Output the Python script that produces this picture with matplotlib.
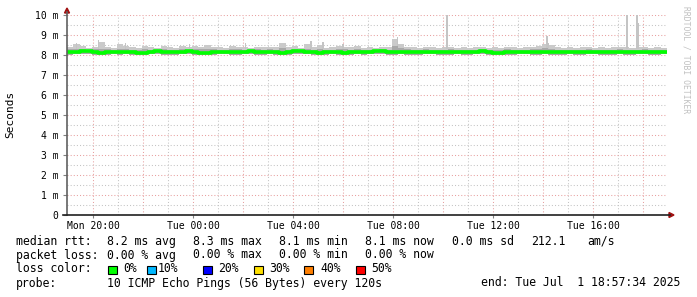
import numpy as np
import matplotlib
matplotlib.use("Agg")
import matplotlib.pyplot as plt
from matplotlib.patches import Polygon, Rectangle

# ---------------- data ----------------
t_start = 18.959          # Mon 18:57:34 (hours since Mon 00:00)
t_end = 42.959            # Tue 18:57:34
bin_h = 0.25              # 15 minute bins

median = [8.15, 8.17, 8.20, 8.18, 8.14, 8.12, 8.15, 8.16, 8.13, 8.17, 8.14, 8.10, 8.12, 8.16, 8.18, 8.15,
          8.14, 8.13, 8.17, 8.18, 8.15, 8.12, 8.10, 8.13, 8.16, 8.17, 8.15, 8.14, 8.16, 8.18, 8.15, 8.13,
          8.16, 8.14, 8.12, 8.15, 8.18, 8.20, 8.17, 8.14, 8.10, 8.13, 8.16, 8.15, 8.12, 8.14, 8.17, 8.15,
          8.16, 8.22, 8.18, 8.15, 8.14, 8.16, 8.15, 8.13, 8.15, 8.17, 8.16, 8.14, 8.15, 8.13, 8.16, 8.15,
          8.14, 8.16, 8.18, 8.15, 8.12, 8.10, 8.13, 8.15, 8.17, 8.16, 8.14, 8.15, 8.16, 8.14, 8.13, 8.15,
          8.16, 8.15, 8.14, 8.16, 8.17, 8.15, 8.13, 8.15, 8.16, 8.14, 8.15, 8.17, 8.16, 8.14, 8.15, 8.16]

smoke_hi = [8.40, 8.55, 8.45, 8.35, 8.40, 8.65, 8.40, 8.35, 8.55, 8.45, 8.40, 8.35, 8.45, 8.40, 8.35, 8.45,
            8.40, 8.35, 8.45, 8.40, 8.45, 8.40, 8.50, 8.40, 8.40, 8.35, 8.45, 8.40, 8.40, 8.35, 8.40, 8.38,
            8.40, 8.38, 8.60, 8.40, 8.45, 8.35, 8.55, 8.40, 8.50, 8.35, 8.40, 8.45, 8.40, 8.38, 8.45, 8.35,
            8.40, 8.35, 8.40, 8.38, 8.80, 8.55, 8.40, 8.38, 8.35, 8.40, 8.38, 8.35, 8.38, 8.40, 8.35, 8.38,
            8.35, 8.38, 8.40, 8.35, 8.38, 8.35, 8.40, 8.38, 8.35, 8.38, 8.40, 8.45, 8.55, 8.50, 8.38, 8.35,
            8.38, 8.35, 8.38, 8.40, 8.35, 8.38, 8.35, 8.38, 8.40, 8.38, 8.35, 8.38, 8.40, 8.35, 8.38, 8.35]

smoke_mid = [8.28, 8.30, 8.30, 8.25, 8.28, 8.32, 8.28, 8.25, 8.30, 8.28, 8.26, 8.25, 8.28, 8.27, 8.25, 8.28,
             8.27, 8.25, 8.28, 8.27, 8.30, 8.28, 8.30, 8.28, 8.27, 8.25, 8.30, 8.28, 8.27, 8.25, 8.28, 8.26,
             8.28, 8.27, 8.33, 8.27, 8.30, 8.25, 8.32, 8.27, 8.30, 8.25, 8.27, 8.30, 8.28, 8.27, 8.30, 8.25,
             8.27, 8.26, 8.28, 8.27, 8.45, 8.35, 8.28, 8.27, 8.25, 8.28, 8.27, 8.25, 8.27, 8.28, 8.25, 8.27,
             8.25, 8.27, 8.28, 8.25, 8.27, 8.25, 8.28, 8.27, 8.25, 8.27, 8.28, 8.30, 8.33, 8.30, 8.27, 8.25,
             8.27, 8.25, 8.27, 8.28, 8.25, 8.27, 8.25, 8.27, 8.28, 8.27, 8.25, 8.27, 8.28, 8.25, 8.27, 8.25]

smoke_lo = [8.02, 8.03, 8.05, 8.04, 8.01, 8.00, 8.02, 8.03, 8.01, 8.04, 8.02, 7.98, 8.00, 8.03, 8.05, 8.02,
            8.01, 8.00, 8.04, 8.05, 8.02, 8.00, 7.98, 8.01, 8.03, 8.04, 8.02, 8.01, 8.03, 8.05, 8.02, 8.00,
            8.03, 8.01, 8.00, 8.02, 8.05, 8.06, 8.04, 8.01, 7.98, 8.00, 8.03, 8.02, 8.00, 8.01, 8.04, 8.02,
            8.03, 8.06, 8.05, 8.02, 8.00, 8.03, 8.02, 8.00, 8.02, 8.04, 8.03, 8.01, 8.02, 8.00, 8.03, 8.02,
            8.01, 8.03, 8.05, 8.02, 8.00, 7.98, 8.00, 8.02, 8.04, 8.03, 8.01, 8.02, 8.03, 8.01, 8.00, 8.02,
            8.03, 8.02, 8.01, 8.03, 8.04, 8.02, 8.00, 8.02, 8.03, 8.01, 8.02, 8.04, 8.03, 8.01, 8.02, 8.03]

spike_times = [19.35, 20.22, 21.30, 23.85, 26.10, 28.72, 29.20, 30.0, 32.18, 34.16, 38.16, 38.22, 41.36, 41.76, 41.81]
spike_tops = [8.6, 8.75, 8.6, 8.55, 8.6, 8.7, 8.65, 8.55, 8.9, 10.0, 8.95, 8.6, 10.5, 10.5, 9.6]

tick_hours = [20, 24, 28, 32, 36, 40]
tick_labels = ["Mon 20:00", "Tue 00:00", "Tue 04:00", "Tue 08:00", "Tue 12:00", "Tue 16:00"]
ytick_vals = [0, 1, 2, 3, 4, 5, 6, 7, 8, 9, 10]
ytick_labels = ["0", "1 m", "2 m", "3 m", "4 m", "5 m", "6 m", "7 m", "8 m", "9 m", "10 m"]

loss_labels = ["0%", "10%", "20%", "30%", "40%", "50%"]
loss_colors = ["#00ff00", "#00b8ff", "#0000ff", "#ffe000", "#ff7f00", "#ff0000"]

# ---------------- figure ----------------
W, H = 697, 297
fig = plt.figure(figsize=(W / 100, H / 100), dpi=100)
fig.patch.set_facecolor("white")
mono = "DejaVu Sans Mono"

def fx(px):
    return px / W

def fy(py):
    return 1 - py / H

ax = fig.add_axes([fx(67), fy(215), 600 / W, 200 / H])
ax.set_facecolor("white")
ax.set_xlim(t_start, t_end)
ax.set_ylim(0, 10)
for s in ax.spines.values():
    s.set_visible(False)

# grid
red = "#e8a0a0"
gray = "#c4c4c4"
dot = (0, (1, 2))
for h in np.arange(20, 43, 1):
    col = red if h % 2 == 0 else gray
    ax.axvline(h, color=col, lw=0.75, ls=dot, zorder=1)
for v in np.arange(0.5, 10.01, 0.5):
    col = red if abs(v - round(v)) < 1e-6 else gray
    ax.axhline(v, color=col, lw=0.75, ls=dot, zorder=1)

# smoke
n = len(median)
edges = t_start + bin_h * np.arange(n + 1)
def stepy(a):
    a = np.asarray(a, float)
    return np.append(a, a[-1])

ax.fill_between(edges, stepy(smoke_lo), stepy(smoke_hi), step="post",
                color="#cacaca", lw=0, zorder=2)
ax.fill_between(edges, stepy(smoke_lo), stepy(smoke_mid), step="post",
                color="#a8a8a8", lw=0, zorder=3)
for t, top in zip(spike_times, spike_tops):
    ax.bar(t, top - 8.3, bottom=8.3, width=0.05, color="#c4c4c4", lw=0, zorder=2)

# median line
ax.step(edges, stepy(median), where="post", color="#00ff00", lw=2.6, zorder=5,
        solid_capstyle="butt")

# ticks
ax.set_xticks(tick_hours)
ax.set_xticklabels(tick_labels, fontsize=7, family=mono)
ax.set_yticks(ytick_vals)
ax.set_yticklabels(ytick_labels, fontsize=7, family=mono)
ax.tick_params(axis="y", length=3, width=0.8, color="#808080", pad=3)
ax.tick_params(axis="x", length=2, width=0.8, color="#808080", pad=2)

# axis lines + arrows (figure coordinates)
fig.add_artist(plt.Line2D([fx(67), fx(67)], [fy(215), fy(12)], color="#606060", lw=1.2))
fig.add_artist(plt.Line2D([fx(63), fx(670)], [fy(215), fy(215)], color="#202020", lw=1.2))
fig.add_artist(Polygon([[fx(64.5), fy(13)], [fx(69.5), fy(13)], [fx(67), fy(8)]],
                       closed=True, color="#a01010"))
fig.add_artist(Polygon([[fx(669), fy(212.5)], [fx(669), fy(217.5)], [fx(674), fy(215)]],
                       closed=True, color="#a01010"))

# labels
fig.text(fx(10), fy(114), "Seconds", rotation=90, fontsize=8, family=mono,
         ha="center", va="center")
fig.text(fx(686), fy(60), "RRDTOOL / TOBI OETIKER", rotation=270, fontsize=5.8,
         family=mono, color="#c0c0c0", ha="center", va="center")

# legend
fs = 8.3
rows = [241.5, 255, 269, 283]
def t(x, row, s, ha="left"):
    fig.text(fx(x), fy(rows[row]), s, fontsize=fs, family=mono, ha=ha, va="center")

t(16, 0, "median rtt:")
for x, s in zip([107, 193, 279, 365, 452, 531, 587],
                ["8.2 ms avg", "8.3 ms max", "8.1 ms min", "8.1 ms now", "0.0 ms sd", "212.1", "am/s"]):
    t(x, 0, s)
t(16, 1, "packet loss:")
for x, s in zip([107, 193, 279, 365],
                ["0.00 % avg", "0.00 % max", "0.00 % min", "0.00 % now"]):
    t(x, 1, s)
t(16, 2, "loss color:")
box_x = [108, 147, 203, 254, 304, 356]
text_x = [123, 158, 218, 269, 320, 371]
for bx, tx, lab, c in zip(box_x, text_x, loss_labels, loss_colors):
    fig.add_artist(Rectangle((fx(bx), fy(274)), 9 / W, 8 / H, facecolor=c,
                             edgecolor="black", lw=0.8))
    t(tx, 2, lab)
t(16, 3, "probe:")
t(107, 3, "10 ICMP Echo Pings (56 Bytes) every 120s")
t(680, 3, "end: Tue Jul  1 18:57:34 2025", ha="right")

fig.savefig("out.png", dpi=100, facecolor="white")
